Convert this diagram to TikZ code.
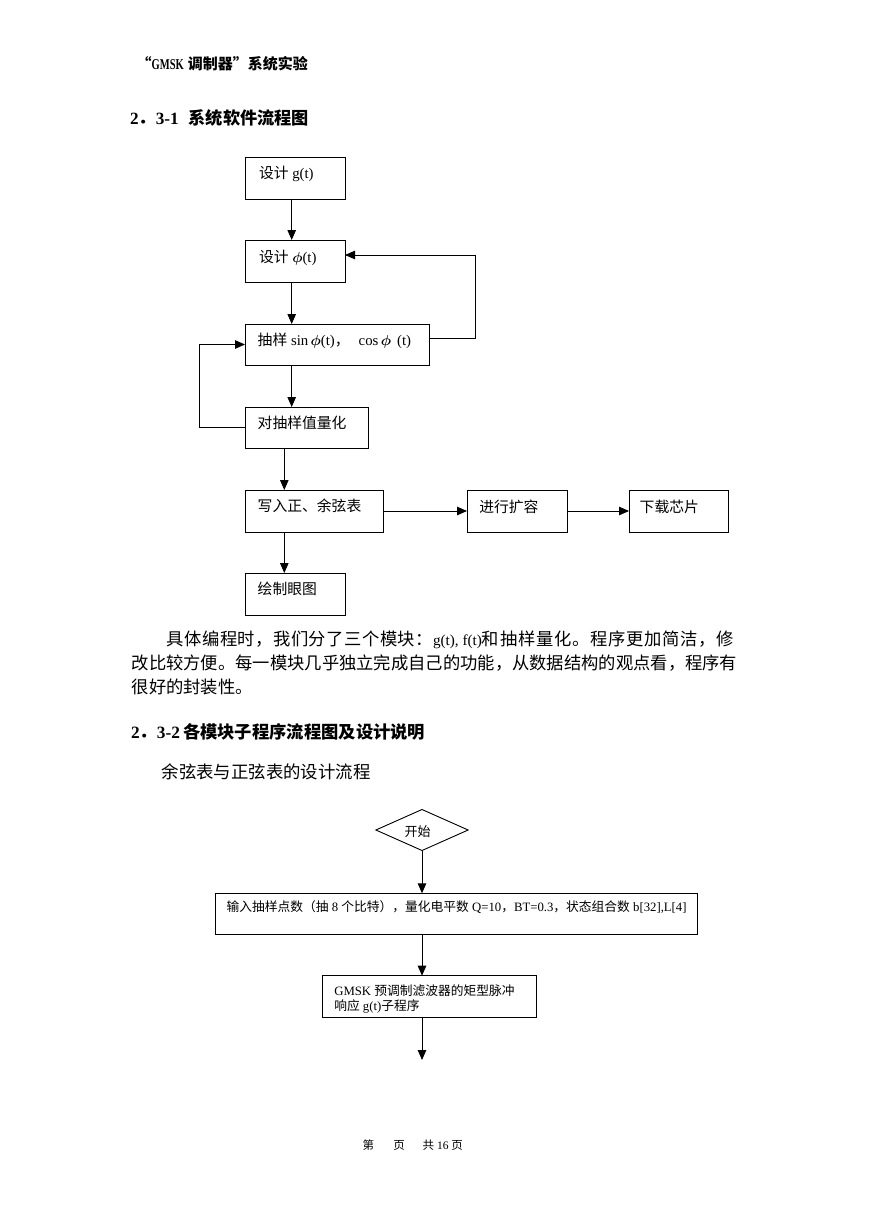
\documentclass[tikz,border=0pt]{standalone}
\usepackage{fontspec}
\usepackage{bm}
\setmainfont{Liberation Serif}
\newfontfamily\cjk{Noto Sans CJK SC}
\newfontfamily\narrowserif[FakeStretch=0.7]{Liberation Serif}
\usetikzlibrary{arrows.meta,shapes.geometric,calc}
\def\sprx#1{\ifx\relax#1\else#1\hskip 0pt plus 1fil\relax\expandafter\sprx\fi}
\newcommand\fsz[1]{\fontsize{#1pt}{#1pt}\selectfont}
\tikzset{
  box/.style={draw, line width=0.9pt, rectangle, inner sep=0pt, outer sep=0pt},
  lbl/.style={anchor=west, inner sep=0pt, outer sep=0pt},
  arr/.style={line width=0.9pt, -{Triangle[length=10pt,width=8.5pt]}},
  ln/.style={line width=0.9pt}
}
\begin{document}
\begin{tikzpicture}[x=1pt,y=-1pt]
\fill[white] (0,0) rectangle (869,1228);
\useasboundingbox (0,0) rectangle (869,1228);

% header and heading
\node[lbl,font=\fsz{15}] (hdr) at (136.7,63.3) {{\cjk\bfseries “}{\narrowserif\bfseries GMSK}\hspace{4pt}{\cjk\bfseries 调制器”系统实验}};
\node[lbl,font=\fsz{17.2}\bfseries] (h1) at (130,118.3) {2{\cjk ．}3-1\hspace{10pt}{\cjk 系统软件流程图}};

% flowchart 1
\begin{scope}[every node/.append style={font=\fsz{14.8}}]
\node[box, minimum width=100pt, minimum height=42pt] (b1) at (295,178) {};
\node[box, minimum width=100pt, minimum height=42pt] (b2) at (295,261) {};
\node[box, minimum width=184pt, minimum height=41pt] (b3) at (337,344.5) {};
\node[box, minimum width=123pt, minimum height=41pt] (b4) at (306.5,427.5) {};
\node[box, minimum width=138pt, minimum height=42pt] (b5) at (314,511) {};
\node[box, minimum width=100pt, minimum height=42pt] (b6) at (295,594) {};
\node[box, minimum width=100pt, minimum height=42pt] (b7) at (517,511) {};
\node[box, minimum width=99pt, minimum height=42pt] (b8) at (678.5,511) {};

\node[lbl] (t1) at ($(b1.north west)+(14,17)$) {{\cjk 设计} g(t)};
\node[lbl] (t2) at ($(b2.north west)+(14,18.3)$) {{\cjk 设计} $\bm{\phi}$(t)};
\node[lbl] (t3) at ($(b3.north west)+(12.7,16.7)$) {{\cjk 抽样} sin$\,\bm{\phi}$(t){\cjk ，}\hspace{9pt}cos$\,\bm{\phi}$\hspace{6pt}(t)};
\node[lbl] (t4) at ($(b4.north west)+(12.7,16)$) {\cjk 对抽样值量化};
\node[lbl] (t5) at ($(b5.north west)+(12.7,15.7)$) {\cjk 写入正、余弦表};
\node[lbl] (t6) at ($(b6.north west)+(12.7,16)$) {\cjk 绘制眼图};
\node[lbl] (t7) at ($(b7.north west)+(12.3,16.7)$) {\cjk 进行扩容};
\node[lbl] (t8) at ($(b8.north west)+(10.7,16.7)$) {\cjk 下载芯片};
\end{scope}

\draw[arr] ([xshift=-3.3pt]b1.south) -- ([xshift=-3.3pt]b2.north);
\draw[arr] ([xshift=-3.3pt]b2.south) -- ([xshift=-45.3pt]b3.north);
\draw[arr] ([xshift=-45.3pt]b3.south) -- ([xshift=-14.8pt]b4.north);
\draw[arr] ([xshift=-22.2pt]b4.south) -- ([xshift=-29.7pt]b5.north);
\draw[arr] ([xshift=-29.7pt]b5.south) -- ([xshift=-10.7pt]b6.north);
\draw[arr] (b5.east) -- (b7.west);
\draw[arr] (b7.east) -- (b8.west);
\draw[arr] ([yshift=6.5pt]b3.east) -- ++(46,0) |- ([yshift=6pt]b2.east);
\draw[arr] (b4.west) -- ++(-45.3,0) |- (b3.west);

% paragraph
\node[lbl,font=\fsz{17.3}] (p1) at (166.7,640) {\hbox to 266.3pt{\cjk\sprx 具体编程时，我们分了三个模块：\relax\unskip}{\fsz{15.2}g(t), f(t)}\hbox to 252pt{\cjk\sprx 和抽样量化。程序更加简洁，修\relax\unskip}};
\node[lbl,font=\fsz{17.3}] (p2) at (131.7,663.5) {\hbox to 605.5pt{\cjk\sprx 改比较方便。每一模块几乎独立完成自己的功能，从数据结构的观点看，程序有\relax\unskip}};
\node[lbl,font=\fsz{17.3}] (p3) at (131.7,687) {\cjk 很好的封装性。};

\node[lbl,font=\fsz{17.3}\bfseries] (h2) at (131,731.7) {2{\cjk ．}3-2\hspace{3pt}{\cjk 各模块子程序流程图及设计说明}};
\node[lbl,font=\fsz{17.4}] (h3) at (161.7,771.7) {\cjk 余弦表与正弦表的设计流程};

% flowchart 2
\node[draw, diamond, line width=0.9pt, inner sep=0pt, minimum width=92.6pt, minimum height=41.4pt] (d) at (422,830) {};
\node[lbl,font=\fsz{13}\cjk] (td) at ($(d.center)+(-17.5,1.5)$) {开始};
\node[box, minimum width=482.7pt, minimum height=41pt] (bb) at (456.35,913.8) {};
\node[lbl,font=\fsz{12.75}] (tbb) at ($(bb.north west)+(11.7,13.4)$) {{\cjk 输入抽样点数（抽} 8 {\cjk 个比特），量化电平数} Q=10{\cjk ，}BT=0.3{\cjk ，状态组合数} b[32],L[4]};
\node[box, minimum width=214.4pt, minimum height=41.6pt] (g) at (429.5,996.5) {};
\node[lbl,font=\fsz{12.75}] (tg1) at ($(g.north west)+(12,15.3)$) {GMSK {\cjk 预调制滤波器的矩型脉冲}};
\node[lbl,font=\fsz{12.75}] (tg2) at ($(g.north west)+(12,31)$) {{\cjk 响应} g(t){\cjk 子程序}};
\coordinate (gend) at ($(d.south |- g.south)+(0,42.7)$);

\draw[arr] (d.south) -- (d.south |- bb.north);
\draw[arr] (d.south |- bb.south) -- (d.south |- g.north);
\draw[arr] (d.south |- g.south) -- (gend);

% footer
\node[lbl,font=\fsz{11.5}] (f1) at (362.7,1145) {\cjk 第};
\node[lbl,font=\fsz{11.5}] (f2) at (393.3,1145) {\cjk 页};
\node[lbl,font=\fsz{11.5}] (f3) at (422.7,1145) {{\cjk 共} 16 {\cjk 页}};
\end{tikzpicture}
\end{document}
